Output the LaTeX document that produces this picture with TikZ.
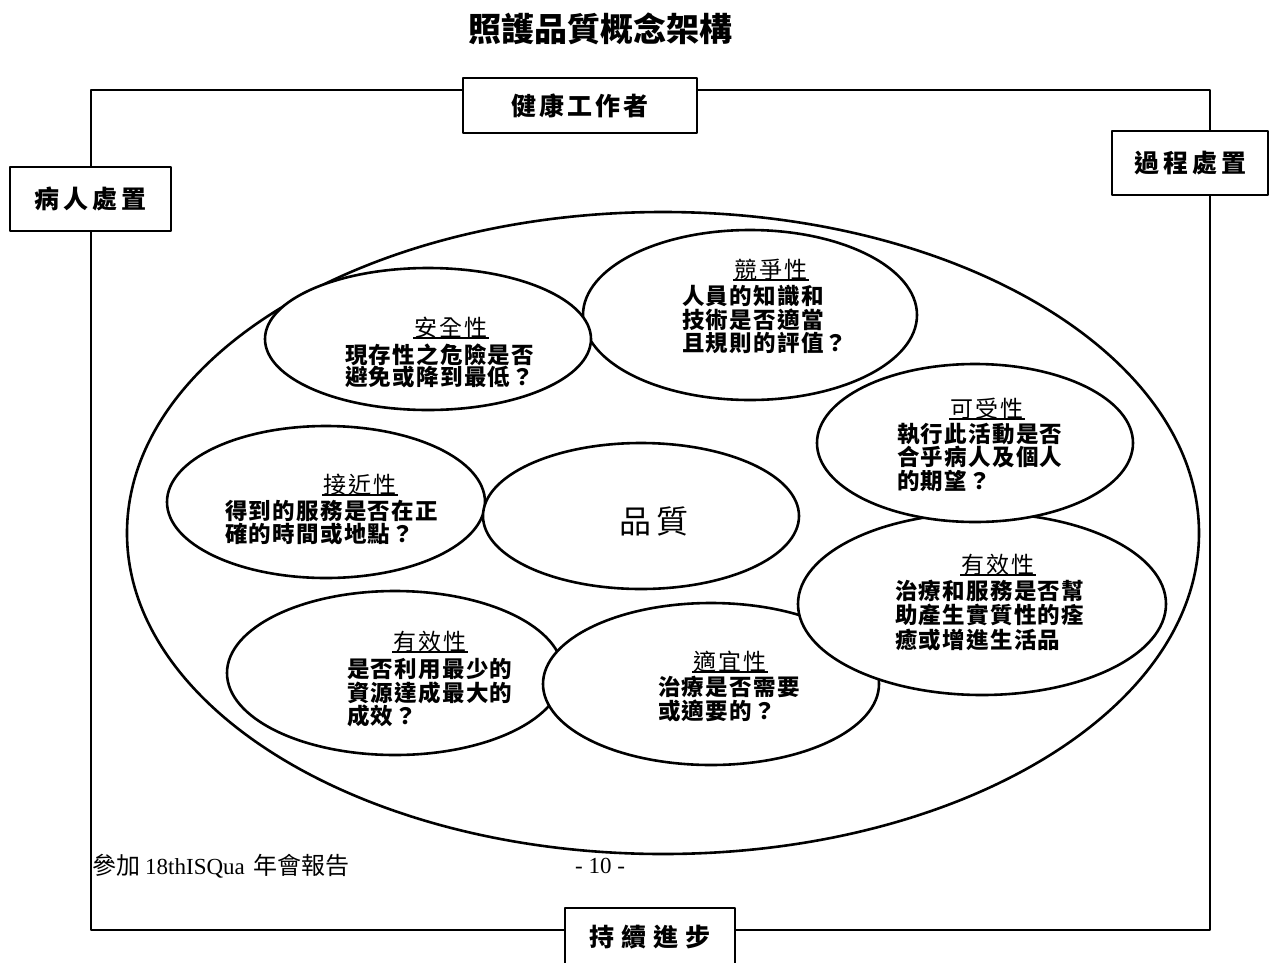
\documentclass[tikz,border=0pt]{standalone}
\usepackage{fontspec}
\usetikzlibrary{shapes.geometric}
\newfontfamily\cjk{Noto Sans CJK TC}
\newfontfamily\lat{Liberation Serif}
\newdimen\spckern
\def\spcloop#1{\ifx#1\relax\else#1\kern\spckern\expandafter\spcloop\fi}
\newcommand\spc[2]{\spckern=#1\relax\spcloop#2\relax}
\begin{document}
\begin{tikzpicture}[x=1pt,y=-1pt,line join=round,
  frame/.style={line width=2pt},
  bub/.style={ellipse,draw,line width=2.6pt,fill=white,inner sep=0pt},
  lab/.style={rectangle,draw,line width=2.2pt,fill=white,inner sep=0pt,font=\cjk\bfseries\fontsize{25}{25}\selectfont},
  head/.style={inner ysep=0pt,inner xsep=1pt,font=\cjk\fontsize{23}{23}\selectfont,text height=20pt,text depth=1.5pt},
  uline/.style={line width=1.8pt},
  body/.style={anchor=west,inner sep=0pt,font=\cjk\bfseries\fontsize{22.5}{22.5}\selectfont,text height=19pt,text depth=2pt},
  foot/.style={inner sep=0pt,font=\fontsize{23}{23}\selectfont}
]
\useasboundingbox (0,0) rectangle (1270,962);
% title
\node[inner sep=0pt,font=\cjk\bfseries\fontsize{33}{33}\selectfont] (title) at (600,29) {照護品質概念架構};
% frame
\coordinate (tl) at (91,90);
\coordinate (tr) at (1210,90);
\coordinate (br) at (1210,930);
\coordinate (bl) at (91,930);
\draw[frame] (tl) -- (tr) -- (br) -- (bl) -- cycle;
% corner boxes
\node[lab,minimum width=234pt,minimum height=55pt] (hw) at (580,105.5) {健\kern3pt康\kern3pt工\kern3pt作\kern3pt者};
\node[lab,minimum width=161pt,minimum height=64pt] (pt) at (90.5,199) {病\kern4pt人\kern4pt處\kern4pt置};
\node[lab,minimum width=156pt,minimum height=64pt] (pr) at (1190,163) {過\kern4pt程\kern4pt處\kern4pt置};
\node[lab,minimum width=170pt,minimum height=58pt] (ci) at (650,937) {持\kern7pt續\kern7pt進\kern7pt步};
% big ellipse
\node[bub,minimum width=1072pt,minimum height=642pt] (big) at (663,533) {};
% small ellipses (stacking order matters)
\node[bub,minimum width=334pt,minimum height=170pt] (comp) at (750,315) {};
\node[bub,minimum width=326pt,minimum height=142pt] (safe) at (428,339) {};
\node[bub,minimum width=336pt,minimum height=164pt] (effl) at (395,673) {};
\node[bub,minimum width=336pt,minimum height=162pt] (suit) at (711,684) {};
\node[bub,minimum width=368pt,minimum height=182pt] (effr) at (982,604) {};
\node[bub,minimum width=316pt,minimum height=158pt] (acpt) at (975,443) {};
\node[bub,minimum width=318pt,minimum height=152pt] (accs) at (326,502) {};
\node[bub,minimum width=316pt,minimum height=146pt] (qual) at (641,516) {};
% texts
\node[inner sep=0pt,font=\cjk\fontsize{32}{32}\selectfont] (qualt) at (654,521) {品\kern6pt質};

\node[head] (safeh) at (451,327) {安\kern2pt全\kern2pt性};
\node[body] (safe1) at (345,355) {\spc{1.3pt}{現存性之危險是否}};
\node[body] (safe2) at (345,377) {\spc{1.3pt}{避免或降到最低？}};

\node[head] (comph) at (771,269) {競\kern2pt爭\kern2pt性};
\node[body] (comp1) at (682,296) {\spc{1.3pt}{人員的知識和}};
\node[body] (comp2) at (682,320) {\spc{1.3pt}{技術是否適當}};
\node[body] (comp3) at (682,343) {\spc{1.3pt}{且規則的評值？}};

\node[head] (acpth) at (987,408) {可\kern2pt受\kern2pt性};
\node[body] (acpt1) at (897,434) {\spc{1.3pt}{執行此活動是否}};
\node[body] (acpt2) at (897,457) {\spc{1.3pt}{合乎病人及個人}};
\node[body] (acpt3) at (897,481) {\spc{1.3pt}{的期望？}};

\node[head] (accsh) at (360,484) {接\kern2pt近\kern2pt性};
\node[body] (accs1) at (225,511) {\spc{1.3pt}{得到的服務是否在正}};
\node[body] (accs2) at (225,534) {\spc{1.3pt}{確的時間或地點？}};

\node[head] (effrh) at (998,564) {有\kern2pt效\kern2pt性};
\node[body] (effr1) at (895,591) {\spc{1.3pt}{治療和服務是否幫}};
\node[body] (effr2) at (895,615) {\spc{1.3pt}{助產生實質性的痊}};
\node[body] (effr3) at (895,640) {\spc{1.3pt}{癒或增進生活品}};

\node[head] (efflh) at (430,641) {有\kern2pt效\kern2pt性};
\node[body] (effl1) at (347,669) {\spc{1.3pt}{是否利用最少的}};
\node[body] (effl2) at (347,693) {\spc{1.3pt}{資源達成最大的}};
\node[body] (effl3) at (347,716) {\spc{1.3pt}{成效？}};

\node[head] (suith) at (730,661) {適\kern2pt宜\kern2pt性};
\node[body] (suit1) at (658,687) {\spc{1.3pt}{治療是否需要}};
\node[body] (suit2) at (658,711) {\spc{1.3pt}{或適要的？}};
% underlines of headings
\foreach \h in {safeh,comph,acpth,accsh,effrh,efflh,suith}
  \draw[uline] (\h.south west) -- (\h.south east);
% footer
\node[foot,anchor=west] (ft) at (92,866) {{\cjk\fontsize{24}{24}\selectfont 參加}\kern5pt{\lat 18thISQua}\kern9pt{\cjk\fontsize{24}{24}\selectfont 年會報告}};
\node[foot] (pg) at (600,866) {\lat - 10 -};
\end{tikzpicture}
\end{document}
